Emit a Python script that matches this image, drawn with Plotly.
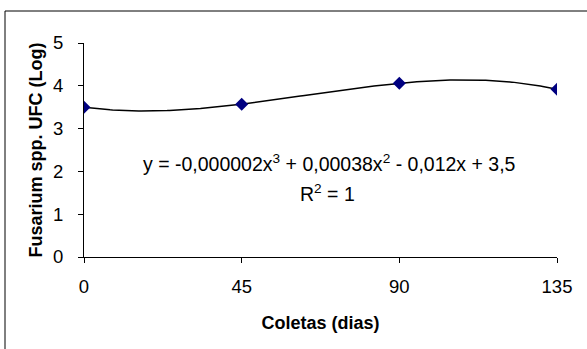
import numpy as np
import plotly.graph_objects as go

# Sampling days and Fusarium counts (log CFU)
dias = [0, 45, 90, 135]
ufc_log = [3.5, 3.57, 4.06, 3.92]

x_ticks = [0, 45, 90, 135]
y_ticks = [0, 1, 2, 3, 4, 5]

equacao = "y = -0,000002x<sup>3</sup> + 0,00038x<sup>2</sup> - 0,012x + 3,5"
r2 = "R<sup>2</sup> = 1"

# Cubic trendline through the observed points
coef = np.polyfit(dias, ufc_log, 3)
xs = np.linspace(0, 135, 200)
ys = np.polyval(coef, xs)

W, H = 587, 349
L, R, T, B = 84, 557, 43, 257  # plot area in pixels


def px_x(p):
    return (p - L) / (R - L)


def px_y(p):
    return (B - p) / (B - T)


FAM = "Arial, Liberation Sans, sans-serif"
tick_font = dict(family=FAM, size=18.5, color="black")
title_font = dict(family=FAM, size=18, color="black")
eq_font = dict(family=FAM, size=19.5, color="black")

fig = go.Figure()
fig.add_trace(go.Scatter(x=xs, y=ys, mode="lines",
                         line=dict(color="black", width=1.5),
                         hoverinfo="skip", showlegend=False))
fig.add_trace(go.Scatter(x=dias, y=ufc_log, mode="markers",
                         marker=dict(symbol="diamond", size=10, color="#000080"),
                         showlegend=False))

fig.update_layout(
    width=W, height=H,
    margin=dict(l=L, r=W - R, t=T, b=H - B),
    paper_bgcolor="white", plot_bgcolor="white",
    font=dict(family=FAM, color="black"),
    xaxis=dict(range=[0, 135], tickvals=x_ticks, ticks="outside", ticklen=5,
               tickcolor="black", showline=True, linecolor="black", linewidth=1,
               showgrid=False, zeroline=False, ticklabelstandoff=8,
               tickfont=tick_font,
               title=dict(text="<b>Coletas (dias)</b>", standoff=20, font=title_font),
               fixedrange=True),
    yaxis=dict(range=[0, 5], tickvals=y_ticks, ticks="outside", ticklen=5,
               tickcolor="black", showline=True, linecolor="black", linewidth=1,
               showgrid=False, zeroline=False, ticklabelstandoff=11,
               tickfont=tick_font,
               title=dict(text="<b>Fusarium spp. UFC (Log)</b>", standoff=5, font=title_font),
               fixedrange=True),
    shapes=[dict(type="rect", xref="paper", yref="paper",
                 x0=px_x(5), x1=px_x(W + 5), y0=px_y(H + 5), y1=px_y(11),
                 line=dict(color="black", width=1), layer="below")],
    annotations=[
        dict(text=equacao, xref="paper", yref="paper", xanchor="center", yanchor="middle",
             x=px_x(329), y=px_y(163), showarrow=False, font=eq_font),
        dict(text=r2, xref="paper", yref="paper", xanchor="center", yanchor="middle",
             x=px_x(327), y=px_y(193), showarrow=False, font=eq_font),
    ],
)

fig.write_html("out.html")
